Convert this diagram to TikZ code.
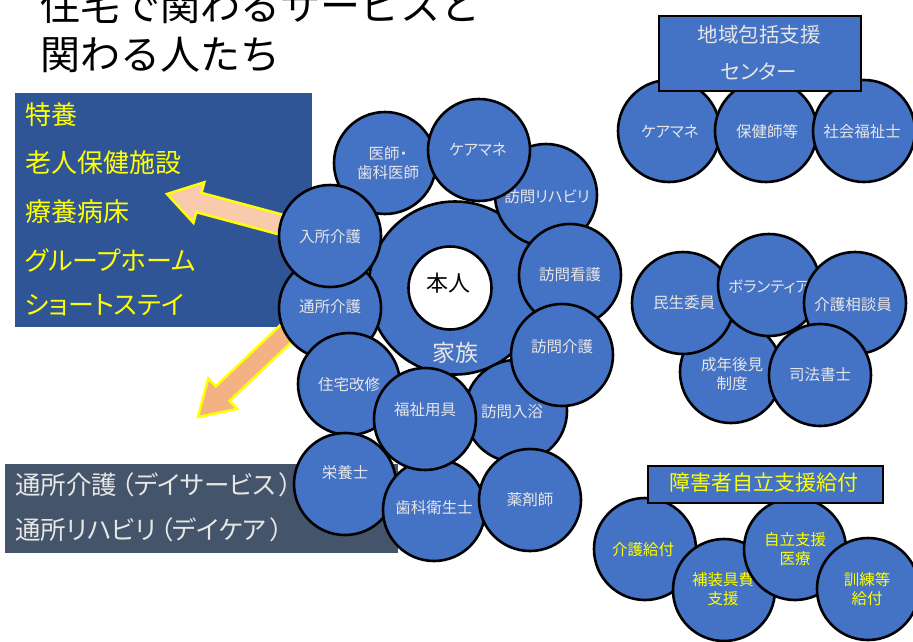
\documentclass[tikz,border=0pt]{standalone}
\usepackage{fontspec}
\setmainfont{Noto Sans CJK JP}[RawFeature=+palt]
\newfontfamily\titlefont{Noto Sans CJK JP}
\usetikzlibrary{calc}
\definecolor{cblue}{HTML}{4472C4}
\definecolor{dblue}{HTML}{2F5597}
\definecolor{slate}{HTML}{44546A}
\definecolor{ctext}{HTML}{E7E6E6}
\definecolor{yel}{HTML}{FFFF00}
\definecolor{peach}{HTML}{F8CBAD}
\definecolor{orng}{HTML}{F4B183}
\tikzset{
  bub/.style={circle, draw=black, line width=2.6pt, fill=cblue, minimum size=102pt, inner sep=0pt},
  btxt/.style={text=ctext, font=\fontsize{15.5}{19}\selectfont, align=center, inner sep=0pt},
  ytxt/.style={text=yel, font=\fontsize{15.5}{19}\selectfont, align=center, inner sep=0pt},
  listtxt/.style={text=yel, font=\fontsize{26}{30}\selectfont, anchor=west, inner sep=0pt},
  graytxt/.style={text=ctext, font=\fontsize{25.5}{30}\selectfont, anchor=west, inner sep=0pt},
  titletxt/.style={text=black, font=\titlefont\fontsize{40}{48}\selectfont, anchor=west, inner sep=0pt},
  blockarrow/.style={draw=yel, line width=2.5pt, line join=miter},
  hbox/.style={rectangle, draw=black, line width=2pt, fill=cblue, inner sep=0pt}
}
\begin{document}
\begin{tikzpicture}[x=1pt, y=-1pt]
\useasboundingbox (0,0) rectangle (913,641);
\clip (0,0) rectangle (913,641);
\fill[white] (0,0) rectangle (913,641);

% title
\node[titletxt] (title1) at (40,5) {住宅で関わるサービスと};
\node[titletxt] (title2) at (40,55) {関わる人たち};

% left boxes
\node[rectangle, fill=dblue, minimum width=297pt, minimum height=234pt, anchor=north west, inner sep=0pt] (lbox) at (15,93) {};
\node[listtxt] (l1) at (25,115) {特養};
\node[listtxt] (l2) at (25,163) {老人保健施設};
\node[listtxt] (l3) at (25,212) {療養病床};
\node[listtxt] (l4) at (25,260) {グループホーム};
\node[listtxt] (l5) at (25,305) {ショートステイ};

\node[rectangle, fill=slate, minimum width=393pt, minimum height=89pt, anchor=north west, inner sep=0pt] (sbox) at (5,464) {};
\node[graytxt] (s1) at (15,485) {通所介護\hspace{4pt}（デイサービス\hspace{4pt}）};
\node[graytxt] (s2) at (15,530) {通所リハビリ\hspace{4pt}（デイケア\hspace{4pt}）};

% block arrows
\coordinate (a1t) at (167,194);
\coordinate (a1e) at (290,227);
\coordinate (a1h) at ($(a1t)!33pt!(a1e)$);
\draw[blockarrow, fill=peach] (a1t) -- ($(a1h)!21pt!90:(a1e)$) -- ($(a1h)!10pt!90:(a1e)$) -- ($(a1e)!10pt!-90:(a1h)$) -- ($(a1e)!10pt!90:(a1h)$) -- ($(a1h)!10pt!-90:(a1e)$) -- ($(a1h)!21pt!-90:(a1e)$) -- cycle;

\coordinate (a2t) at (198,417);
\coordinate (a2e) at (295,325);
\coordinate (a2h) at ($(a2t)!34pt!(a2e)$);
\draw[blockarrow, fill=orng] (a2t) -- ($(a2h)!21pt!90:(a2e)$) -- ($(a2h)!10pt!90:(a2e)$) -- ($(a2e)!10pt!-90:(a2h)$) -- ($(a2e)!10pt!90:(a2h)$) -- ($(a2h)!10pt!-90:(a2e)$) -- ($(a2h)!21pt!-90:(a2e)$) -- cycle;

% main cluster
\node[bub, minimum size=173pt] (kazoku) at (455,288) {};
\node[btxt, font=\fontsize{23}{28}\selectfont] (kazokut) at (455,353) {家族};
\node[bub, fill=white, minimum size=83pt] (honnin) at (450,288) {};
\node[inner sep=0pt, font=\fontsize{22}{26}\selectfont] (honnint) at (448,283) {本人};

\node[bub] (ishi) at (385,163) {};
\node[btxt] (ishit) at (388,163) {医師・\\歯科医師};
\node[bub] (reha) at (546,195) {};
\node[btxt] (rehat) at (547,197) {訪問リハビリ};
\node[bub] (cm) at (479,150) {};
\node[btxt] (cmt) at (478,150) {ケアマネ};
\node[bub] (kango) at (570,275) {};
\node[btxt] (kangot) at (570,275) {訪問看護};
\node[bub] (tsusho) at (330,308) {};
\node[btxt] (tsushot) at (330,307) {通所介護};
\node[bub] (nyusho) at (330,236) {};
\node[btxt] (nyushot) at (330,237) {入所介護};
\node[bub] (nyuyoku) at (516,411) {};
\node[btxt] (nyuyokut) at (512,412) {訪問入浴};
\node[bub] (houkai) at (562,355) {};
\node[btxt] (houkait) at (562,347) {訪問介護};
\node[bub] (jutaku) at (349,384) {};
\node[btxt] (jutakut) at (349,385) {住宅改修};
\node[bub] (eiyo) at (345,484) {};
\node[btxt] (eiyot) at (345,473) {栄養士};
\node[bub] (shika) at (434,510) {};
\node[btxt] (shikat) at (434,508) {歯科衛生士};
\node[bub] (fukushi) at (425,419) {};
\node[btxt] (fukushit) at (425,410) {福祉用具};
\node[bub] (yaku) at (530,500) {};
\node[btxt] (yakut) at (530,500) {薬剤師};

% top-right cluster
\node[bub] (cm2) at (669,131) {};
\node[btxt] (cm2t) at (670,132) {ケアマネ};
\node[bub] (hoken) at (766,131) {};
\node[btxt] (hokent) at (767,132) {保健師等};
\node[bub] (shakai) at (864,131) {};
\node[btxt] (shakait) at (862,132) {社会福祉士};
\node[hbox, minimum width=202pt, minimum height=75pt, anchor=north west] (chiiki) at (658,15) {};
\node[btxt, font=\fontsize{20.5}{24}\selectfont] (chiikit1) at (759,35) {地域包括支援};
\node[btxt, font=\fontsize{20.5}{24}\selectfont] (chiikit2) at (759,72) {センター};

% middle-right cluster
\node[bub] (seinen) at (731,372) {};
\node[btxt] (seinent) at (732,374) {成年後見\\制度};
\node[bub] (minsei) at (683,303) {};
\node[btxt] (minseit) at (684,303) {民生委員};
\node[bub] (vol) at (769,285) {};
\node[btxt] (volt) at (769,287) {ボランティア};
\node[bub] (sodan) at (855,303) {};
\node[btxt] (sodant) at (853,305) {介護相談員};
\node[bub] (shiho) at (820,375) {};
\node[btxt] (shihot) at (820,375) {司法書士};

% bottom-right cluster
\node[bub] (kaigo) at (645,549) {};
\node[ytxt] (kaigot) at (643,550) {介護給付};
\node[bub] (hosougu) at (724,590) {};
\node[ytxt] (hosougut) at (723,589) {補装具費\\支援};
\node[bub] (jiritsu) at (795,549) {};
\node[ytxt] (jiritsut) at (795,549) {自立支援\\医療};
\node[bub] (kunren) at (868,589) {};
\node[ytxt] (kunrent) at (867,589) {訓練等\\給付};
\node[hbox, minimum width=235pt, minimum height=37pt, anchor=north west] (shogai) at (647,465) {};
\node[ytxt, font=\fontsize{21}{25}\selectfont] (shogait) at (764,483) {障害者自立支援給付};
\end{tikzpicture}
\end{document}
